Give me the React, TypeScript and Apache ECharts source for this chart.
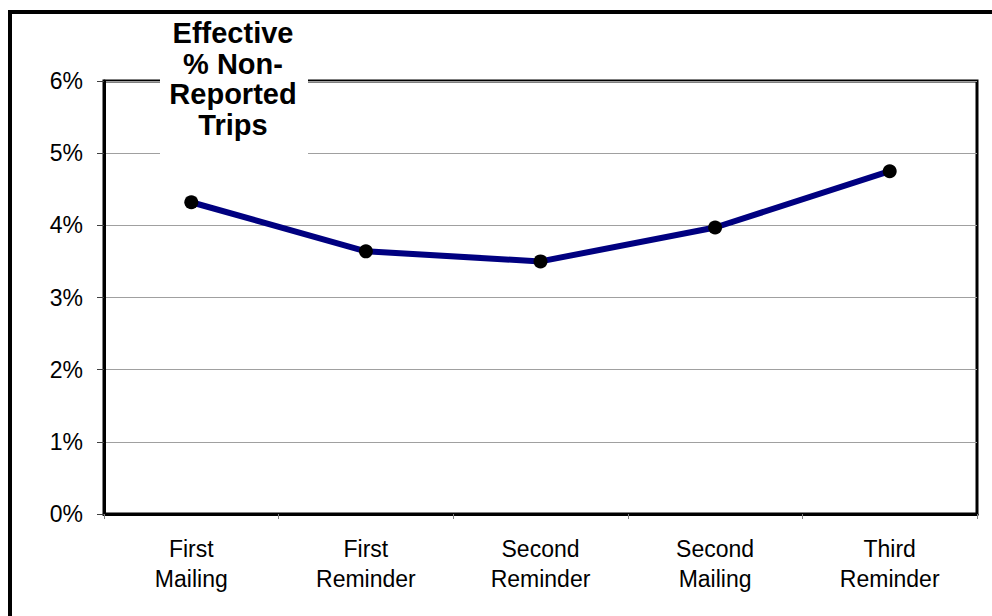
import React, { useEffect, useRef } from "react";
import * as echarts from "echarts";

// Survey stages along the horizontal axis
const categories = ["First\nMailing", "First\nReminder", "Second\nReminder", "Second\nMailing", "Third\nReminder"];
// Effective share of non-reported trips, in percent
const nonReported = [4.32, 3.64, 3.5, 3.97, 4.75];
// Value axis range, in percent
const yMin = 0;
const yMax = 6;
const yStep = 1;
const titleLines = ["Effective", "% Non-", "Reported", "Trips"];

const FONT = '"Liberation Sans", Arial, Helvetica, sans-serif';

export default function App() {
  const ref = useRef<HTMLDivElement>(null);

  useEffect(() => {
    if (!ref.current) return;
    const chart = echarts.init(ref.current, null, { renderer: "svg" });
    chart.setOption({
      animation: false,
      backgroundColor: "#ffffff",
      grid: {
        left: 104,
        right: 15,
        top: 81,
        bottom: 102,
        show: true,
        borderColor: "#000000",
        borderWidth: 3,
        backgroundColor: "transparent",
      },
      xAxis: {
        type: "category",
        data: categories,
        boundaryGap: true,
        axisLine: { show: true, lineStyle: { color: "#000000", width: 3 } },
        axisTick: { show: true, length: 5, interval: 0, lineStyle: { color: "#808080", width: 1 } },
        axisLabel: {
          interval: 0,
          color: "#000000",
          fontFamily: FONT,
          fontSize: 23,
          lineHeight: 30,
          margin: 20,
        },
        splitLine: { show: false },
      },
      yAxis: {
        type: "value",
        min: yMin,
        max: yMax,
        interval: yStep,
        axisLine: { show: true, lineStyle: { color: "#000000", width: 3 } },
        axisTick: { show: true, length: 7, lineStyle: { color: "#404040", width: 1 } },
        axisLabel: {
          color: "#000000",
          fontFamily: FONT,
          fontSize: 23,
          margin: 21,
          formatter: "{value}%",
        },
        splitLine: { show: true, lineStyle: { color: "#a0a0a0", width: 1 } },
      },
      series: [
        {
          type: "line",
          data: nonReported,
          lineStyle: { color: "#000080", width: 6 },
          itemStyle: { color: "#000000" },
          symbol: "circle",
          symbolSize: 14,
          showSymbol: true,
          z: 3,
        },
      ],
      graphic: [
        {
          type: "rect",
          z: 100,
          shape: { x: 10, y: 12, width: 1200, height: 900 },
          style: { fill: "transparent", stroke: "#000000", lineWidth: 4 },
          silent: true,
        },
        {
          type: "rect",
          z: 100,
          shape: { x: 160, y: 15, width: 148, height: 140 },
          style: { fill: "#ffffff", stroke: "none" },
          silent: true,
        },
        {
          type: "text",
          z: 101,
          x: 233,
          y: 18,
          style: {
            text: titleLines.join("\n"),
            fill: "#000000",
            font: `bold 29px ${FONT}`,
            align: "center",
            verticalAlign: "top",
            lineHeight: 30.5,
          },
          silent: true,
        },
      ],
    });
    return () => chart.dispose();
  }, []);

  return (
    <div
      ref={ref}
      style={{ position: "fixed", left: 0, top: 0, width: 992, height: 616, background: "#fff" }}
    />
  );
}
